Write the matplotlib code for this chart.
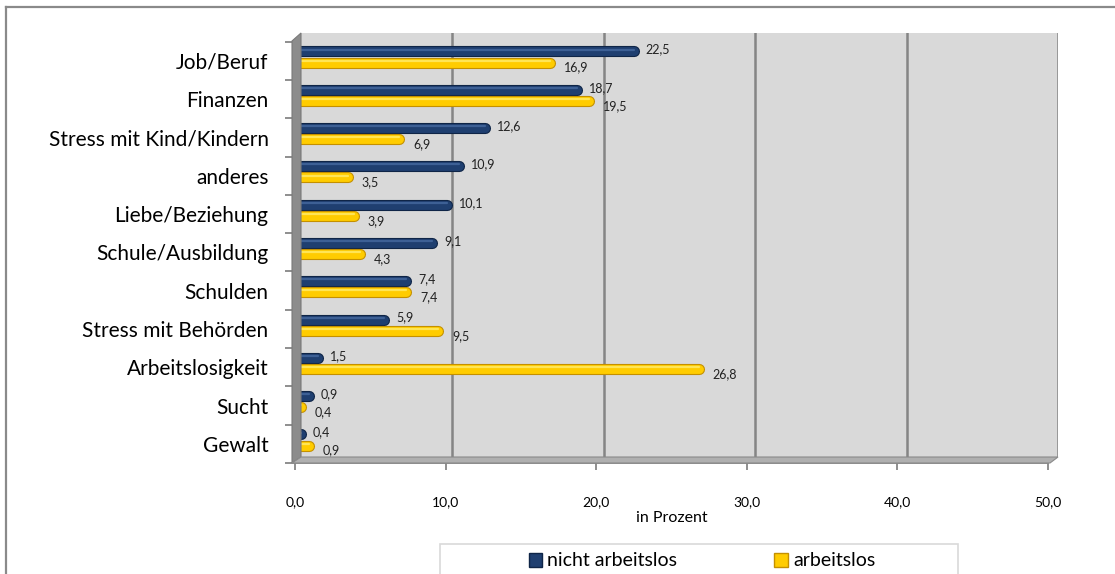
import numpy as np
import matplotlib.pyplot as plt
from matplotlib.patches import Polygon, Rectangle, Patch
from matplotlib.lines import Line2D

plt.rcParams['font.family'] = ['Lato', 'DejaVu Sans']

# data
categories = ["Job/Beruf", "Finanzen", "Stress mit Kind/Kindern", "anderes",
              "Liebe/Beziehung", "Schule/Ausbildung", "Schulden",
              "Stress mit Behörden", "Arbeitslosigkeit", "Sucht", "Gewalt"]
nicht_arbeitslos = [22.5, 18.7, 12.6, 10.9, 10.1, 9.1, 7.4, 5.9, 1.5, 0.9, 0.4]
arbeitslos = [16.9, 19.5, 6.9, 3.5, 3.9, 4.3, 7.4, 9.5, 26.8, 0.4, 0.9]
xticks = [0, 10, 20, 30, 40, 50]

W, H = 1115, 574
fig = plt.figure(figsize=(W / 100, H / 100), dpi=100)


def fx(px):
    return px / W


def fy(py):
    return 1 - py / H


# outer chart frame
fig.add_artist(Line2D([fx(6), fx(6)], [fy(7), 0], color='#8a8a8a', lw=1.6))
fig.add_artist(Line2D([fx(6), 1], [fy(7), fy(7)], color='#8a8a8a', lw=1.6))

# back wall (3D look)
wall = fig.add_axes([fx(301), fy(457), fx(1058) - fx(301), fy(33) - fy(457)])
wall.set_facecolor('#d9d9d9')
wall.set_xlim(0, 50)
wall.set_xticks(xticks[1:])
wall.set_yticks([])
wall.tick_params(length=0, labelbottom=False)
wall.grid(axis='x', color='#858585', lw=1.8)
for s in wall.spines.values():
    s.set_visible(False)

# left wall and floor
fig.add_artist(Polygon([(fx(292), fy(41)), (fx(301), fy(33)), (fx(301), fy(457)),
                        (fx(292), fy(463))], closed=True, fc='#8c8c8c', ec='#7a7a7a', lw=0.8))
fig.add_artist(Polygon([(fx(292), fy(463)), (fx(301), fy(457)), (fx(1058), fy(457)),
                        (fx(1050), fy(463))], closed=True, fc='#b0b0b0', ec='#8a8a8a', lw=0.8))

ax = fig.add_axes([fx(295), fy(463), fx(1048) - fx(295), fy(41.7) - fy(463)])
ax.patch.set_alpha(0)
ax.set_xlim(0, 50)
ax.set_ylim(10.5, -0.5)

y = np.arange(len(categories))
bar_styles = [
    (nicht_arbeitslos, -0.245, '#0f2547', '#1f3f70', '#4a6fa5', (12, 2)),
    (arbeitslos, 0.045, '#c49000', '#ffcc00', '#fff07a', (14, -5)),
]
for vals, off, edge, main, hi, lab_off in bar_styles:
    for yi, v in zip(y, vals):
        yy = yi + off
        ax.plot([0, v], [yy, yy], color=edge, lw=8.0, solid_capstyle='round', zorder=3)
        ax.plot([0, v], [yy, yy], color=main, lw=6.4, solid_capstyle='round', zorder=4)
        ax.plot([0, v], [yy - 0.05, yy - 0.05], color=hi, lw=1.6, alpha=0.7,
                solid_capstyle='round', zorder=5)
        ax.annotate(f"{v:.1f}".replace('.', ','), (v, yy), xytext=lab_off,
                    textcoords='offset pixels', fontsize=9, color='#222222',
                    ha='left', va='center', zorder=6)

ax.set_yticks(y)
ax.set_yticklabels(categories, fontsize=15)
ax.set_yticks(np.arange(-0.5, 11, 1), minor=True)
ax.tick_params(axis='y', which='major', length=0, pad=19)
ax.tick_params(axis='y', which='minor', length=7, color='#868686', width=1.3)

ax.set_xticks(xticks)
ax.set_xticklabels([f"{t:.1f}".replace('.', ',') for t in xticks], fontsize=10)
ax.tick_params(axis='x', length=5, color='#868686', width=1.3, pad=19)
ax.set_xlabel("in Prozent", fontsize=11.5, labelpad=2)

for side in ['top', 'right', 'left']:
    ax.spines[side].set_visible(False)
ax.spines['bottom'].set_color('#868686')
ax.spines['bottom'].set_linewidth(1.3)

# legend box and entries
fig.add_artist(Rectangle((fx(440), fy(590)), fx(958) - fx(440), fy(544) - fy(590),
                         fc='white', ec='#d9d9d9', lw=1.2))
handles = [Patch(fc='#1f3f70', ec='#0f2547', label='nicht arbeitslos'),
           Patch(fc='#ffcc00', ec='#c49000', label='arbeitslos')]
leg = fig.legend(handles=handles, loc='center left', ncol=2,
                 bbox_to_anchor=(fx(521), fy(561)), fontsize=14, frameon=False,
                 handlelength=0.7, handleheight=0.7, handletextpad=0.25,
                 columnspacing=5.0, borderaxespad=0)

fig.savefig('out.png', dpi=100)
